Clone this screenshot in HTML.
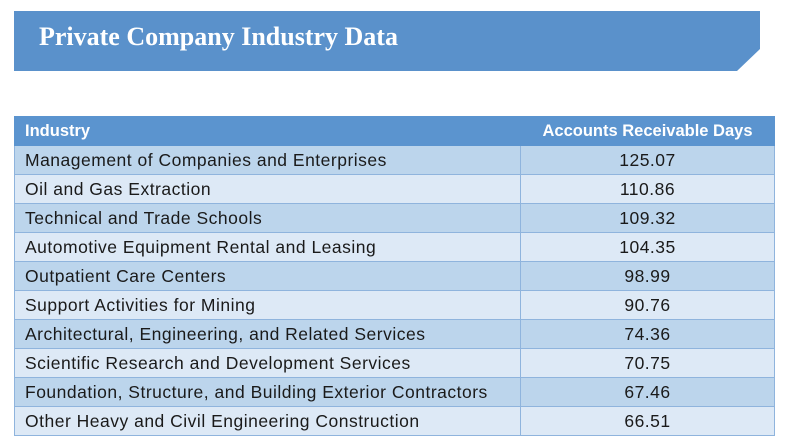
<!DOCTYPE html>
<html><head><meta charset="utf-8"><style>
body{margin:0;width:791px;height:447px;background:#fff;position:relative;overflow:hidden;font-family:"Liberation Sans",sans-serif}
.t{position:absolute;left:39px;top:22px;font:bold 26px "Liberation Serif",serif;color:#fff;letter-spacing:0}
table{position:absolute;left:14px;top:116px;width:761px;border-collapse:collapse;font-size:17.5px;color:#1a1a1a}
td,th{height:28px;padding:0 0 0 10px;border:1px solid #8fb4dd;white-space:nowrap;letter-spacing:0.5px}
th{background:#5b94cf;color:#fff;text-align:left;font-weight:bold;font-size:16.5px;border-color:#5b94cf;letter-spacing:0}
th.r{text-align:center;padding:0}
td.r{text-align:center;padding:0;width:253px}
tr:nth-child(even) td{background:#bcd5ec}
tr:nth-child(odd) td{background:#dde9f6}
</style></head><body>
<svg style="position:absolute;left:0;top:0" width="791" height="80"><polygon points="14,11 760,11 760,49 737,71 14,71" fill="#5a91cb"/></svg>
<div class="t">Private Company Industry Data</div>
<table>
<tr><th>Industry</th><th class="r">Accounts Receivable Days</th></tr>
<tr><td>Management of Companies and Enterprises</td><td class="r">125.07</td></tr>
<tr><td>Oil and Gas Extraction</td><td class="r">110.86</td></tr>
<tr><td>Technical and Trade Schools</td><td class="r">109.32</td></tr>
<tr><td>Automotive Equipment Rental and Leasing</td><td class="r">104.35</td></tr>
<tr><td>Outpatient Care Centers</td><td class="r">98.99</td></tr>
<tr><td>Support Activities for Mining</td><td class="r">90.76</td></tr>
<tr><td>Architectural, Engineering, and Related Services</td><td class="r">74.36</td></tr>
<tr><td>Scientific Research and Development Services</td><td class="r">70.75</td></tr>
<tr><td>Foundation, Structure, and Building Exterior Contractors</td><td class="r">67.46</td></tr>
<tr><td>Other Heavy and Civil Engineering Construction</td><td class="r">66.51</td></tr>
</table>
</body></html>
